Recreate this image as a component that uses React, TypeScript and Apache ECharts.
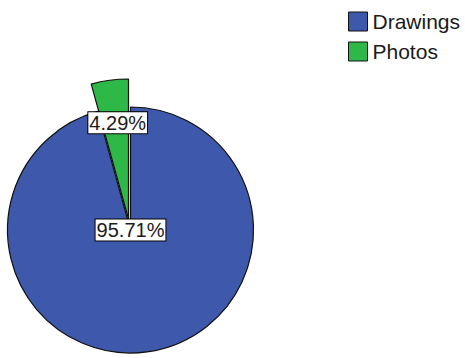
import React, { useEffect, useRef } from "react";
import * as echarts from "echarts";

const categories = ["Drawings", "Photos"];
const percents = [95.71, 4.29];
const labels = ["95.71%", "4.29%"];
const colors = ["#3E58AC", "#2EB848"];

export default function App() {
  const ref = useRef<HTMLDivElement>(null);
  useEffect(() => {
    if (!ref.current) return;
    const chart = echarts.init(ref.current, undefined, { renderer: "svg" });
    const labelStyle = {
      fontFamily: "Liberation Sans, Arial, sans-serif",
      fontSize: 20,
      color: "#1a1a1a",
      backgroundColor: "#ffffff",
      borderColor: "#000000",
      borderWidth: 1,
      padding: [1, 1, 0, 1],
    };
    const base = categories.map((name, i) => ({
      name,
      value: percents[i],
      itemStyle: {
        color: i === 0 ? colors[0] : "rgba(0,0,0,0)",
        borderColor: i === 0 ? "#111" : "rgba(0,0,0,0)",
        borderWidth: i === 0 ? 1.2 : 0,
      },
      label: i === 0
        ? { show: true, position: "center", formatter: labels[i], ...labelStyle }
        : { show: false },
    }));
    const exploded = categories.map((name, i) => ({
      name,
      value: percents[i],
      itemStyle: {
        color: i === 1 ? colors[1] : "rgba(0,0,0,0)",
        borderColor: i === 1 ? "#111" : "rgba(0,0,0,0)",
        borderWidth: i === 1 ? 1.2 : 0,
      },
      label: i === 1
        ? { show: true, position: "inside", formatter: labels[i], ...labelStyle }
        : { show: false },
      emphasis: { disabled: true },
    }));
    chart.setOption({
      animation: false,
      backgroundColor: "#ffffff",
      legend: {
        orient: "vertical",
        left: 343,
        top: 6,
        icon: "rect",
        itemWidth: 19,
        itemHeight: 19,
        itemGap: 9,
        selectedMode: false,
        textStyle: {
          fontFamily: "Liberation Sans, Arial, sans-serif",
          fontSize: 21,
          color: "#1a1a1a",
        },
        data: categories.map((name, i) => ({
          name,
          itemStyle: { color: colors[i], borderColor: "#111", borderWidth: 1 },
        })),
      },
      series: [
        {
          type: "pie",
          center: [130.5, 230],
          radius: 123,
          startAngle: 90,
          clockwise: true,
          silent: true,
          labelLine: { show: false },
          data: base,
        },
        {
          type: "pie",
          center: [128.5, 219],
          radius: 140,
          startAngle: 90,
          clockwise: true,
          silent: true,
          labelLine: { show: false },
          labelLayout: (params: any) =>
            params.dataIndex === 1 ? { dx: -1, dy: -24 } : {},
          data: exploded,
        },
      ],
    });
    return () => chart.dispose();
  }, []);
  return (
    <div
      ref={ref}
      style={{ position: "fixed", left: 0, top: 0, width: 465, height: 358 }}
    />
  );
}
